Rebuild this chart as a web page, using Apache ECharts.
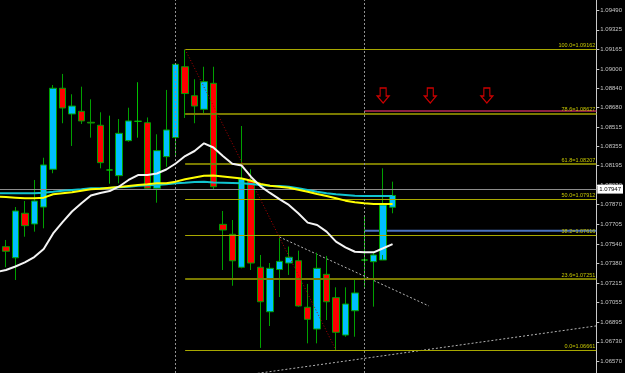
<!DOCTYPE html>
<html><head><meta charset="utf-8">
<script src="https://cdn.jsdelivr.net/npm/echarts@6/dist/echarts.min.js"></script>
<style>html,body{margin:0;padding:0;background:#000;}#c{width:625px;height:373px;}</style>
</head><body><div id="c"></div>
<script>
// ---- candles (index 0..41) ----
const opens  = [1.07521,1.07429,1.07799,1.07710,1.07851,1.08165,1.08839,1.08625,1.08647,1.08556,1.08531,1.08159,1.08112,1.08403,1.08564,1.08552,1.08007,1.08270,1.08429,1.09018,1.08777,1.08664,1.08880,1.07707,1.07624,1.07350,1.08072,1.07350,1.06980,1.07331,1.07385,1.07404,1.07017,1.06836,1.07291,1.07097,1.06786,1.06988,1.07410,1.07396,1.07410,1.07849];
const closes = [1.07483,1.07818,1.07696,1.07901,1.08201,1.08839,1.08675,1.08691,1.08567,1.08550,1.08220,1.08159,1.08464,1.08567,1.08564,1.08007,1.08320,1.08492,1.09038,1.08795,1.08691,1.08894,1.08020,1.07660,1.07404,1.08084,1.07385,1.07063,1.07341,1.07399,1.07433,1.07028,1.06917,1.07341,1.07063,1.06809,1.07044,1.07136,1.07410,1.07452,1.07868,1.07947];
const lows   = [1.07350,1.07244,1.07604,1.07646,1.07674,1.08132,1.08548,1.08359,1.08542,1.08428,1.08173,1.08045,1.08048,1.08394,1.08428,1.08005,1.07887,1.08186,1.08270,1.08592,1.08548,1.08625,1.07993,1.07327,1.07196,1.07341,1.07327,1.06679,1.06861,1.07102,1.07286,1.07022,1.06717,1.06717,1.06911,1.06661,1.06772,1.06772,1.07188,1.07022,1.07452,1.07799];
const highs  = [1.07577,1.07851,1.07901,1.08076,1.08261,1.08866,1.08958,1.08789,1.08852,1.08747,1.08639,1.08611,1.08583,1.08677,1.08889,1.08596,1.08456,1.08825,1.09041,1.09162,1.08914,1.09018,1.09018,1.07818,1.07743,1.08525,1.08165,1.07452,1.07385,1.07602,1.07522,1.07488,1.07211,1.07471,1.07444,1.07183,1.07183,1.07250,1.07776,1.07469,1.08173,1.08062];

// ---- moving averages (index -1..41) ----
const maStart = -1;
const maWhite  = [1.07310,1.07327,1.07356,1.07390,1.07435,1.07502,1.07631,1.07726,1.07814,1.07882,1.07947,1.07968,1.07984,1.08022,1.08076,1.08117,1.08117,1.08130,1.08163,1.08213,1.08275,1.08317,1.08381,1.08346,1.08275,1.08211,1.08196,1.08101,1.08023,1.07968,1.07916,1.07868,1.07799,1.07721,1.07701,1.07646,1.07563,1.07516,1.07479,1.07474,1.07474,1.07508,1.07543];
const maYellow = [1.07938,1.07934,1.07929,1.07924,1.07924,1.07929,1.07957,1.07965,1.07973,1.07987,1.07998,1.08003,1.08012,1.08018,1.08026,1.08034,1.08040,1.08048,1.08048,1.08062,1.08082,1.08097,1.08112,1.08113,1.08105,1.08097,1.08088,1.08070,1.08043,1.08028,1.08020,1.08012,1.07995,1.07978,1.07959,1.07943,1.07924,1.07904,1.07890,1.07882,1.07876,1.07876,1.07876];
const maCyan   = [1.07965,1.07965,1.07965,1.07965,1.07965,1.07970,1.07978,1.07987,1.07993,1.07998,1.08007,1.08007,1.08009,1.08015,1.08020,1.08028,1.08032,1.08034,1.08040,1.08048,1.08052,1.08059,1.08062,1.08055,1.08053,1.08051,1.08048,1.08043,1.08034,1.08028,1.08026,1.08020,1.08007,1.07993,1.07978,1.07965,1.07957,1.07951,1.07945,1.07943,1.07943,1.07943,1.07943];

// ---- fibonacci ----
const fibStartIdx = 19, fibEndIdx = 35;
const fibLevels = [100.0, 78.6, 61.8, 50.0, 38.2, 23.6, 0.0];
const fibPrices = [1.09162, 1.08627, 1.08207, 1.07912, 1.07616, 1.07251, 1.06661];
const fibThick  = [false, true, true, false, false, true, false];

// ---- other objects ----
const currentPrice = 1.07947;
const separators = [18, 38];
const hLineStartIdx = 38;
const redLevel = 1.08650, blueLevel = 1.07654;
const arrowIdx = [40, 45, 51];
const arrowPrice = 1.08779;
const trend1 = [[29, 1.07602], [44.85, 1.07028]];
const trend2 = [[25.85, 1.06458], [62.61, 1.06862]];
const yTicks = ['1.09490','1.09325','1.09165','1.09000','1.08840','1.08680','1.08515','1.08355','1.08195','1.08030','1.07870','1.07705','1.07540','1.07380','1.07215','1.07055','1.06895','1.06730','1.06570'];

const X_MIN = -0.6357, X_MAX = 62.61;
const Y_MIN = 1.064702, Y_MAX = 1.095732;

const chart = echarts.init(document.getElementById('c'));
const candleData = opens.map((o, i) => [i, o, closes[i], lows[i], highs[i]]);
const maLine = (arr, color, width, z) => ({
  type: 'line', data: arr.map((v, i) => [i + maStart, v]), symbol: 'none', showSymbol: false,
  lineStyle: { color, width }, z, silent: true, animation: false
});
const seg = (pts, style, z) => ({
  type: 'line', data: pts, symbol: 'none', showSymbol: false, lineStyle: style, z, silent: true, animation: false
});

const fibLines = fibPrices.map((p, k) => [
  { coord: [fibStartIdx, p],
    lineStyle: fibThick[k] ? { color: '#7a7a00', width: 2, type: 'solid' } : { color: '#a8a800', width: 1, type: 'solid' },
    label: { show: true, position: 'insideEndTop', distance: [1, 1],
      formatter: fibLevels[k].toFixed(1) + '=' + p.toFixed(5),
      color: '#c8c800', fontSize: 5.5, fontFamily: 'Liberation Sans' } },
  { coord: [X_MAX, p] }
]);

const option = {
  backgroundColor: '#000',
  animation: false,
  grid: { left: 0, right: 28, top: 0, bottom: 0 },
  xAxis: { type: 'value', min: X_MIN, max: X_MAX, show: false },
  yAxis: {
    type: 'value', position: 'right', min: Y_MIN, max: Y_MAX, scale: true,
    axisLine: { show: true, onZero: false, lineStyle: { color: '#c8c8c8', width: 1 } },
    axisTick: { show: true, length: 3, customValues: yTicks.map(Number), lineStyle: { color: '#c8c8c8' } },
    axisLabel: { show: true, customValues: yTicks.map(Number), formatter: v => v.toFixed(5),
      color: '#c8c8c8', fontSize: 6, margin: 4, fontFamily: 'Liberation Sans' },
    splitLine: { show: false }
  },
  series: [
    { // fib lines, separators, fib diagonal
      type: 'line', data: [], z: 1, silent: true,
      markLine: { silent: true, symbol: ['none', 'none'], animation: false,
        data: fibLines.concat(
          separators.map(s => ({ xAxis: s, lineStyle: { color: '#909090', width: 1, type: [2, 2] }, label: { show: false } })),
          [[{ coord: [fibStartIdx, fibPrices[0]], lineStyle: { color: '#b00000', width: 1, type: [1, 2] }, label: { show: false } },
            { coord: [fibEndIdx, fibPrices[fibPrices.length - 1]] }]]
        ) }
    },
    seg([[hLineStartIdx, redLevel], [X_MAX, redLevel]], { color: '#8a2040', width: 2 }, 2),
    seg([[hLineStartIdx, blueLevel], [X_MAX, blueLevel]], { color: '#4a72c0', width: 2 }, 2),
    { type: 'line', data: [], z: 2, silent: true,
      markLine: { silent: true, symbol: ['none', 'none'], animation: false,
        data: [{ yAxis: currentPrice, lineStyle: { color: '#8c8c8c', width: 1, type: 'solid' },
          label: { show: true, position: 'end', distance: 1, formatter: currentPrice.toFixed(5),
            backgroundColor: '#ffffff', color: '#000', fontSize: 6, padding: [2, 2, 1, 2], fontFamily: 'Liberation Sans' } }] } },
    seg(trend1, { color: '#b4b4b4', width: 1, type: [2, 2] }, 3),
    seg(trend2, { color: '#b4b4b4', width: 1, type: [2, 2] }, 3),
    {
      type: 'candlestick', data: candleData, encode: { x: 0, y: [1, 2, 3, 4] }, barWidth: 7, z: 4,
      itemStyle: { color: '#00bfff', color0: '#ff0000', borderColor: '#00a000', borderColor0: '#00a000', borderColorDoji: '#00c000', borderWidth: 1 },
      silent: true
    },
    maLine(maCyan, '#10c4d0', 2, 5),
    maLine(maYellow, '#ffff00', 2, 6),
    maLine(maWhite, '#f4f4f4', 2, 7),
    {
      type: 'scatter', data: arrowIdx.map(i => [i, arrowPrice]), z: 8, silent: true,
      symbol: 'path://M3,0 L9,0 L9,8 L12,8 L6,15 L0,8 L3,8 Z', symbolSize: [12, 15],
      itemStyle: { color: 'rgba(0,0,0,0)', borderColor: '#ff0000', borderWidth: 1.2 }
    }
  ]
};
chart.setOption(option);
</script>
</body></html>
